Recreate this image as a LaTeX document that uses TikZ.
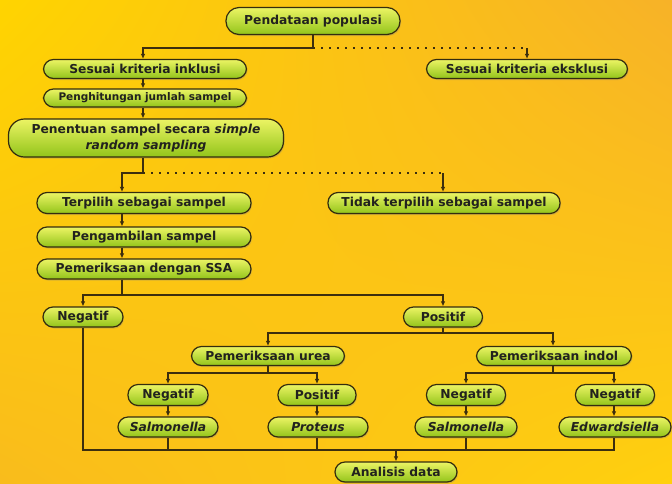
\documentclass[tikz,border=0pt]{standalone}
\usepackage{fontspec}
\setmainfont{DejaVu Sans}
\usetikzlibrary{arrows.meta,shadows,calc,shadings}
\definecolor{bgUL}{RGB}{255,212,0}
\definecolor{bgUR}{RGB}{247,178,40}
\definecolor{bgLL}{RGB}{249,188,28}
\definecolor{bgLR}{RGB}{255,208,14}
\definecolor{nodeTop}{RGB}{236,244,100}
\definecolor{nodeBot}{RGB}{146,196,26}
\definecolor{edgec}{RGB}{52,44,14}
\definecolor{txtc}{RGB}{34,34,30}
\definecolor{connc}{RGB}{60,46,14}
\begin{document}
\begin{tikzpicture}[x=1pt,y=-1pt,
  box/.style={draw=edgec, line width=1.2pt, rounded corners=10pt,
    top color=nodeTop, bottom color=nodeBot, text=txtc,
    font=\bfseries\fontsize{12.3}{15}\selectfont, inner sep=0pt, align=center,
    drop shadow={shadow xshift=1pt,shadow yshift=-1.5pt,opacity=0.3}},
  line/.style={draw=connc, line width=1.2pt},
  arr/.style={line, -{Latex[length=5pt,width=4.5pt]}},
  dots/.style={draw=connc, line width=1.4pt, dash pattern=on 1.6pt off 6.4pt},
]
\shade[upper left=bgUL, upper right=bgUR, lower left=bgLL, lower right=bgLR]
  (0,0) rectangle (672,483);
\useasboundingbox (0,0) rectangle (672,483);

% nodes
\node[box, minimum width=174pt, minimum height=27pt, rounded corners=13pt] (pend) at (313,21) {Pendataan populasi};
\node[box, minimum width=203pt, minimum height=19pt] (inkl) at (145,69) {Sesuai kriteria inklusi};
\node[box, minimum width=201pt, minimum height=19pt] (eksk) at (527,69) {Sesuai kriteria eksklusi};
\node[box, minimum width=203pt, minimum height=18pt, font=\bfseries\fontsize{10.5}{13}\selectfont] (hitung) at (145,98) {Penghitungan jumlah sampel};
\node[box, minimum width=275pt, minimum height=38pt, rounded corners=16pt, font=\bfseries\fontsize{12.3}{16}\selectfont] (tentu) at (146,138) {Penentuan sampel secara \itshape simple\\\itshape random sampling};
\node[box, minimum width=214pt, minimum height=21pt] (pilih) at (144,203) {Terpilih sebagai sampel};
\node[box, minimum width=232pt, minimum height=21pt] (tidak) at (444,203) {Tidak terpilih sebagai sampel};
\node[box, minimum width=214pt, minimum height=20pt] (ambil) at (144,237) {Pengambilan sampel};
\node[box, minimum width=214pt, minimum height=20pt] (ssa) at (144,269) {Pemeriksaan dengan SSA};
\node[box, minimum width=80pt, minimum height=20pt] (neg0) at (83,317) {Negatif};
\node[box, minimum width=79pt, minimum height=20pt] (pos0) at (443,317) {Positif};
\node[box, minimum width=153pt, minimum height=19pt] (urea) at (268,356) {Pemeriksaan urea};
\node[box, minimum width=155pt, minimum height=19pt] (indol) at (554,356) {Pemeriksaan indol};
\node[box, minimum width=80pt, minimum height=21pt] (negu) at (168,395) {Negatif};
\node[box, minimum width=78pt, minimum height=21pt] (posu) at (317,395) {Positif};
\node[box, minimum width=79pt, minimum height=21pt] (negi) at (466,395) {Negatif};
\node[box, minimum width=79pt, minimum height=21pt] (negj) at (615,395) {Negatif};
\node[box, minimum width=100pt, minimum height=20pt, font=\bfseries\itshape\fontsize{12.3}{15}\selectfont] (salu) at (168,427) {Salmonella};
\node[box, minimum width=100pt, minimum height=20pt, font=\bfseries\itshape\fontsize{12.3}{15}\selectfont] (prot) at (318,427) {Proteus};
\node[box, minimum width=102pt, minimum height=20pt, font=\bfseries\itshape\fontsize{12.3}{15}\selectfont] (sali) at (466,427) {Salmonella};
\node[box, minimum width=112pt, minimum height=20pt, font=\bfseries\itshape\fontsize{12.3}{15}\selectfont] (edw) at (615,427) {Edwardsiella};
\node[box, minimum width=122pt, minimum height=20pt] (anal) at (396,472) {Analisis data};

% helper coordinates
\coordinate (j1) at (313,48);
\coordinate (k1) at (527,48);
\coordinate (xb) at (143,0);
\coordinate (j2) at (143,173);
\coordinate (k2) at (443,173);
\coordinate (xa) at (122,0);
\coordinate (j3) at (122,295);
\coordinate (j4) at (443,333);
\coordinate (j5) at (268,373);
\coordinate (j6) at (553,373);
\coordinate (jb) at (83,450);
\coordinate (je) at (614,450);
\coordinate (ja) at (396,450);

% top part
\draw[line] (pend.south -| j1) -- (j1);
\draw[arr] (j1) -| (inkl.north -| xb);
\draw[dots] (j1) -- (k1);
\draw[arr] (k1) -- (eksk.north -| k1);
\draw[arr] (inkl.south -| xb) -- (hitung.north -| xb);
\draw[arr] (hitung.south -| xb) -- (tentu.north -| xb);
\draw[line] (tentu.south -| j2) -- (j2);
\draw[arr] (j2) -| (pilih.north -| xa);
\draw[dots] (j2) -- (k2);
\draw[arr] (k2) -- (tidak.north -| k2);
\draw[arr] (pilih.south -| xa) -- (ambil.north -| xa);
\draw[arr] (ambil.south -| xa) -- (ssa.north -| xa);

% SSA split
\draw[line] (ssa.south -| xa) -- (j3);
\draw[arr] (j3) -| (neg0.north);
\draw[arr] (j3) -| (pos0.north -| j4);

% positive split
\draw[line] (pos0.south -| j4) -- (j4);
\draw[arr] (j4) -| (urea.north -| j5);
\draw[arr] (j4) -| (indol.north -| j6);

% urea / indol split
\draw[line] (urea.south -| j5) -- (j5);
\draw[arr] (j5) -| (negu.north);
\draw[arr] (j5) -| (posu.north);
\draw[line] (indol.south -| j6) -- (j6);
\draw[arr] (j6) -| (negi.north);
\draw[arr] (j6) -| (negj.north -| je);

\draw[arr] (negu) -- (salu);
\draw[arr] (posu.south) -- (prot.north -| posu.south);
\draw[arr] (negi) -- (sali);
\draw[arr] (negj.south -| je) -- (edw.north -| je);

% collect to analysis
\draw[line] (neg0.south) -- (jb) -- (je) -- (edw.south -| je);
\draw[line] (salu.south) -- (salu.south |- jb);
\draw[line] (prot.south -| posu.south) -- (posu.south |- jb);
\draw[line] (sali.south) -- (sali.south |- jb);
\draw[arr] (ja) -- (anal.north -| ja);
\end{tikzpicture}
\end{document}
